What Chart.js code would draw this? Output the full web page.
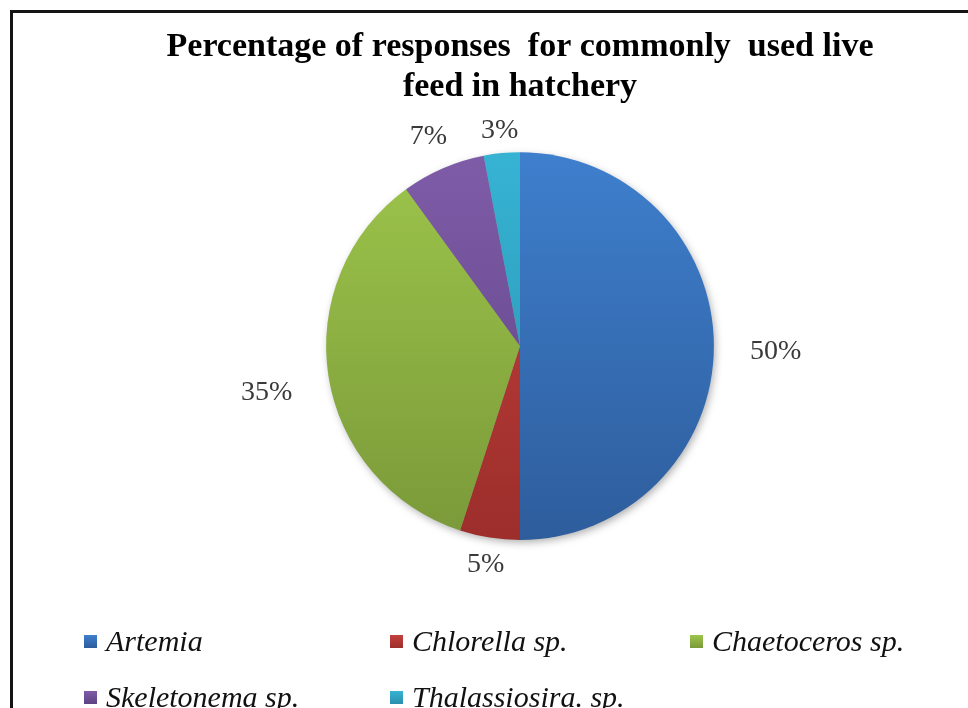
<!DOCTYPE html>
<html>
<head>
<meta charset="utf-8">
<script src="https://cdn.jsdelivr.net/npm/chart.js@4/dist/chart.umd.min.js"></script>
<style>
    html, body { margin: 0; padding: 0; background: #fff; overflow: hidden; }
    #wrap { position: relative; width: 968px; height: 708px; }
    #frame {
        position: absolute; left: 10px; top: 10px;
        width: 1000px; height: 760px;
        border: 3px solid #141414; box-sizing: border-box;
    }
    #pieChart { position: absolute; left: 0; top: 0; }
    #legend {
        position: absolute; left: 84px; top: 620px;
        display: grid; grid-template-columns: 306px 300px auto;
        row-gap: 14px;
        font-family: 'Liberation Serif', 'Times New Roman', serif;
        font-style: italic; font-size: 30px; color: #111;
    }
    .legend-item { display: flex; align-items: center; height: 42px; }
    .legend-swatch { width: 13px; height: 13px; margin-right: 9px; flex: none; }
</style>
</head>
<body>
<div id="wrap">
    <div id="frame"></div>
    <canvas id="pieChart" width="968" height="708"></canvas>
    <div id="legend"></div>
</div>
<script>
// Survey: live feed used in hatcheries (% of responses)
const feedNames = ['Artemia', 'Chlorella sp.', 'Chaetoceros sp.', 'Skeletonema sp.', 'Thalassiosira. sp.'];
const responsePct = [50, 5, 35, 7, 3];

// light / dark stops for each slice's vertical gradient
const sliceTop = ['#3e7fcd', '#c4413d', '#9dc54b', '#7f5ca8', '#36b3d3'];
const sliceBottom = ['#2e5d9c', '#9c2e2b', '#7a9939', '#5d4283', '#2a8fae'];

function sliceGradient(ctx, area, i) {
    const g = ctx.createLinearGradient(0, area.top, 0, area.bottom);
    g.addColorStop(0, sliceTop[i]);
    g.addColorStop(1, sliceBottom[i]);
    return g;
}

// soft drop shadow under the whole pie
const pieShadow = {
    id: 'pieShadow',
    beforeDatasetsDraw(chart) {
        const arc = chart.getDatasetMeta(0).data[0];
        if (!arc) return;
        const ctx = chart.ctx;
        ctx.save();
        ctx.shadowColor = 'rgba(0,0,0,0.35)';
        ctx.shadowBlur = 8;
        ctx.shadowOffsetX = 2;
        ctx.shadowOffsetY = 3;
        ctx.fillStyle = '#888';
        ctx.beginPath();
        ctx.arc(arc.x, arc.y, arc.outerRadius - 1, 0, Math.PI * 2);
        ctx.fill();
        ctx.restore();
    }
};

// percentage labels outside each slice; wider gap on the sides than top/bottom
const outsideLabels = {
    id: 'outsideLabels',
    afterDatasetsDraw(chart) {
        const ctx = chart.ctx;
        const meta = chart.getDatasetMeta(0);
        ctx.save();
        ctx.font = "28px 'Liberation Serif', 'Times New Roman', serif";
        ctx.fillStyle = '#3a3a3a';
        ctx.textAlign = 'center';
        ctx.textBaseline = 'middle';
        meta.data.forEach((arc, i) => {
            const mid = (arc.startAngle + arc.endAngle) / 2;
            const text = responsePct[i] + '%';
            const w = ctx.measureText(text).width;
            const h = 22;
            const dx = Math.cos(mid), dy = Math.sin(mid);
            const gap = 8 + 28 * Math.abs(dx);
            const dist = arc.outerRadius + gap + Math.abs(dx) * w / 2 + Math.abs(dy) * h / 2;
            ctx.fillText(text, arc.x + dx * dist, arc.y + dy * dist + 6 * Math.abs(dx));
        });
        ctx.restore();
    }
};

const chart = new Chart(document.getElementById('pieChart'), {
    type: 'pie',
    data: {
        labels: feedNames,
        datasets: [{
            data: responsePct,
            backgroundColor: (c) => {
                const area = c.chart.chartArea;
                if (!area) return sliceTop[c.dataIndex];
                return sliceGradient(c.chart.ctx, area, c.dataIndex);
            },
            borderWidth: 0,
            hoverOffset: 0
        }]
    },
    options: {
        responsive: false,
        animation: false,
        layout: { padding: { left: 72, right: 0, top: 0, bottom: 168 } },
        plugins: {
            legend: { display: false },
            tooltip: { enabled: false },
            title: {
                display: true,
                text: ['Percentage of responses  for commonly  used live', 'feed in hatchery'],
                color: '#000',
                font: { family: "'Liberation Serif', 'Times New Roman', serif", size: 34, weight: 'bold', lineHeight: 1.18 },
                padding: { top: 27, bottom: 45 }
            }
        }
    },
    plugins: [pieShadow, outsideLabels]
});

// legend in a fixed three-column grid
const legendEl = document.getElementById('legend');
feedNames.forEach((name, i) => {
    const item = document.createElement('div');
    item.className = 'legend-item';
    const sw = document.createElement('span');
    sw.className = 'legend-swatch';
    sw.style.background = `linear-gradient(${sliceTop[i]}, ${sliceBottom[i]})`;
    const label = document.createElement('span');
    label.textContent = name;
    item.appendChild(sw);
    item.appendChild(label);
    legendEl.appendChild(item);
});
</script>
</body>
</html>
